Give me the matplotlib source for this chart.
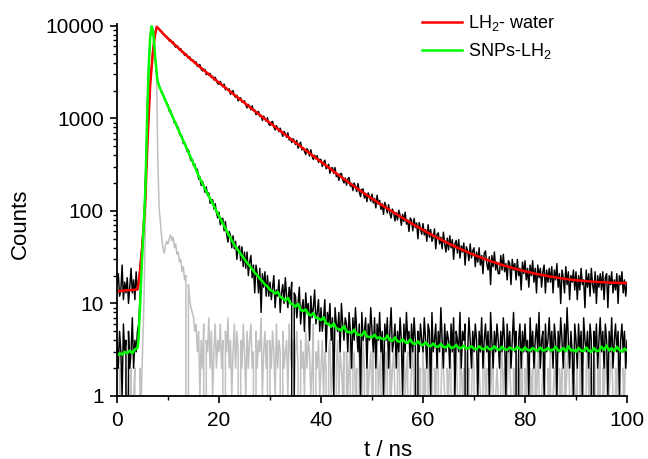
import numpy as np
import matplotlib
matplotlib.use("Agg")
import matplotlib.pyplot as plt
from matplotlib.ticker import LogLocator, FixedLocator, NullFormatter

plt.rcParams['font.family'] = ['Liberation Sans', 'DejaVu Sans']
plt.rcParams['mathtext.fontset'] = 'custom'
plt.rcParams['mathtext.rm'] = 'Liberation Sans'
plt.rcParams['mathtext.it'] = 'Liberation Sans:italic'

# measured decays, one block per 5 ns, channel width 0.25 ns
water_counts = [
    [16, 21, 12, 14, 26, 11, 17, 13, 19, 10, 15, 24, 13, 18, 11, 22, 14, 17, 25, 34],
    [48, 70, 121, 290, 640, 1250, 2380, 3520, 5100, 6700, 8400, 9800, 9500, 9300, 8800, 8700, 8200, 8100, 7700, 7600],
    [7450, 6890, 7110, 6630, 6760, 6190, 5890, 6150, 5860, 5470, 5700, 5200, 5250, 4810, 5020, 4780, 4460, 4650, 4250, 4300],
    [4240, 3930, 4100, 3650, 3740, 3830, 3410, 3260, 3410, 3380, 2980, 3120, 2940, 3070, 2760, 2860, 2600, 2800, 2540, 2380],
    [2340, 2520, 2340, 2200, 2360, 2040, 2140, 2020, 2090, 1820, 1950, 2000, 1770, 1690, 1780, 1550, 1660, 1670, 1500, 1530],
    [1550, 1400, 1300, 1420, 1360, 1240, 1370, 1210, 1240, 1100, 1160, 1190, 1050, 1080, 950, 1060, 995, 930, 1020, 870],
    [840, 910, 930, 810, 750, 835, 790, 720, 785, 705, 640, 725, 690, 625, 700, 585, 610, 550, 605, 580],
    [522, 580, 477, 526, 553, 457, 483, 444, 407, 472, 448, 392, 460, 389, 360, 401, 366, 397, 335, 362],
    [360, 302, 334, 354, 286, 295, 320, 255, 291, 293, 254, 295, 235, 254, 214, 251, 255, 217, 201, 227],
    [190, 222, 230, 185, 199, 166, 201, 184, 162, 198, 161, 143, 171, 173, 138, 155, 126, 157, 143, 127],
    [152, 122, 137, 108, 148, 118, 130, 104, 120, 92, 124, 112, 95, 117, 94, 84, 105, 96, 78, 96],
    [80, 102, 90, 70, 92, 77, 97, 72, 80, 60, 84, 79, 61, 83, 66, 74, 50, 75, 65, 56],
    [73, 55, 63, 47, 71, 52, 63, 47, 52, 64, 39, 56, 58, 44, 52, 39, 59, 44, 36, 51],
    [38, 54, 40, 49, 30, 44, 48, 35, 49, 31, 42, 36, 45, 26, 41, 37, 29, 44, 31, 37],
    [40, 25, 36, 28, 40, 26, 33, 21, 35, 37, 27, 23, 32, 16, 33, 25, 36, 23, 28, 21],
    [21, 33, 23, 34, 22, 27, 18, 29, 27, 16, 30, 23, 27, 18, 30, 20, 24, 14, 28, 21],
    [29, 18, 24, 15, 26, 20, 29, 17, 24, 13, 26, 19, 24, 15, 22, 26, 13, 23, 17, 24],
    [17, 25, 13, 23, 18, 27, 15, 21, 10, 23, 19, 13, 25, 16, 22, 11, 20, 17, 23, 14],
    [22, 11, 20, 14, 24, 16, 18, 9, 23, 15, 21, 12, 24, 16, 13, 22, 10, 20, 15, 21],
    [14, 22, 11, 19, 21, 9, 20, 16, 22, 13, 18, 14, 21, 10, 20, 16, 22, 13, 18, 12, 17],
]

snp_counts = [
    [4, 2, 5, 3, 1, 6, 3, 4, 0, 5, 2, 3, 7, 2, 4, 3, 5, 6, 11, 22],
    [52, 66, 170, 480, 1550, 4150, 7600, 9800, 9250, 7050, 4450, 3150, 2480, 2270, 2080, 1970, 1780, 1700, 1540, 1460],
    [1390, 1200, 1220, 1060, 1030, 890, 910, 790, 805, 680, 650, 640, 535, 550, 505, 437, 460, 388, 350, 364],
    [309, 321, 272, 283, 221, 234, 189, 209, 189, 159, 182, 146, 157, 121, 132, 132, 105, 120, 96, 84],
    [97, 71, 83, 83, 61, 77, 56, 46, 60, 54, 40, 54, 39, 47, 30, 40, 42, 29, 41, 25],
    [36, 24, 36, 20, 28, 33, 19, 26, 13, 26, 21, 13, 24, 8, 21, 15, 22, 12, 20, 12],
    [17, 11, 15, 20, 9, 14, 12, 18, 8, 13, 16, 10, 19, 12, 9, 15, 11, 17, 0, 13],
    [12, 7, 10, 15, 6, 9, 11, 5, 13, 8, 10, 4, 12, 7, 9, 14, 6, 8, 11, 5],
    [9, 5, 7, 11, 3, 8, 6, 10, 4, 7, 1, 9, 6, 5, 8, 3, 10, 6, 4, 7],
    [6, 3, 8, 5, 2, 7, 4, 9, 5, 3, 6, 1, 8, 4, 5, 7, 2, 6, 4, 9],
    [5, 3, 7, 2, 6, 4, 8, 3, 5, 1, 6, 4, 7, 2, 5, 9, 3, 4, 6, 2],
    [5, 3, 7, 4, 1, 6, 3, 8, 4, 5, 2, 6, 3, 7, 4, 0, 5, 3, 6, 4],
    [3, 7, 4, 2, 6, 5, 1, 8, 3, 4, 6, 2, 5, 3, 9, 4, 2, 6, 3, 5],
    [4, 2, 6, 3, 7, 1, 5, 4, 3, 8, 2, 5, 4, 6, 0, 3, 7, 4, 2, 5],
    [3, 6, 4, 1, 5, 3, 7, 2, 4, 6, 3, 5, 1, 8, 4, 2, 5, 3, 6, 4],
    [2, 5, 3, 7, 4, 1, 6, 3, 5, 2, 4, 8, 3, 5, 0, 4, 6, 2, 5, 3],
    [6, 3, 4, 1, 7, 3, 5, 2, 4, 6, 3, 8, 2, 4, 5, 1, 6, 3, 4, 7],
    [3, 5, 2, 6, 4, 1, 5, 3, 7, 4, 2, 6, 3, 9, 4, 2, 5, 3, 1, 6],
    [4, 2, 6, 3, 5, 1, 7, 4, 3, 5, 2, 6, 4, 0, 5, 3, 6, 2, 4, 7],
    [3, 5, 2, 6, 4, 1, 5, 3, 7, 2, 4, 6, 3, 5, 1, 4, 6, 3, 5, 2, 4],
]

irf_counts = [
    [1, 0, 2, 1, 0, 1, 0, 2, 1, 1, 0, 2, 0, 1, 2, 0, 1, 0, 2, 1],
    [3, 9, 45, 320, 1600, 4600, 8200, 9600, 9000, 6800, 4400, 3000, 350, 110, 75, 52, 40, 35, 42, 47],
    [44, 50, 55, 48, 52, 40, 44, 34, 36, 28, 30, 22, 25, 18, 20, 0, 16, 11, 9, 8],
    [7, 5, 6, 3, 5, 1, 4, 2, 6, 0, 4, 3, 7, 2, 5, 1, 3, 6, 2, 4],
    [3, 6, 2, 4, 0, 5, 3, 7, 2, 4, 1, 3, 6, 2, 5, 3, 0, 4, 2, 6],
    [3, 1, 5, 2, 4, 6, 2, 3, 0, 5, 2, 4, 3, 7, 1, 3, 5, 2, 4, 0],
    [4, 2, 5, 3, 1, 6, 2, 4, 3, 0, 5, 2, 3, 4, 1, 6, 3, 2, 4, 1],
    [3, 5, 2, 0, 4, 2, 3, 1, 5, 2, 4, 3, 1, 2, 6, 0, 3, 2, 4, 1],
    [2, 4, 1, 3, 2, 0, 3, 4, 1, 2, 3, 0, 2, 4, 1, 3, 2, 1, 3, 0],
    [3, 1, 2, 4, 0, 2, 3, 1, 2, 0, 3, 2, 1, 4, 2, 0, 3, 1, 2, 3],
    [1, 3, 0, 2, 4, 1, 2, 3, 0, 2, 1, 3, 2, 0, 4, 1, 2, 3, 1, 0],
    [2, 3, 1, 0, 2, 4, 1, 2, 3, 0, 1, 2, 3, 1, 0, 2, 4, 1, 2, 0],
    [3, 1, 2, 0, 2, 3, 1, 4, 0, 2, 1, 3, 2, 0, 1, 3, 2, 1, 0, 2],
    [1, 3, 2, 0, 1, 2, 4, 1, 0, 3, 2, 1, 2, 0, 3, 1, 2, 0, 1, 3],
    [2, 0, 1, 3, 2, 1, 0, 2, 3, 1, 2, 0, 4, 1, 2, 3, 0, 1, 2, 1],
    [0, 2, 3, 1, 2, 0, 1, 3, 2, 1, 0, 2, 1, 3, 2, 0, 2, 1, 4, 0],
    [2, 1, 3, 0, 2, 1, 2, 0, 3, 1, 2, 4, 0, 1, 2, 3, 1, 0, 2, 1],
    [3, 0, 1, 2, 1, 3, 0, 2, 1, 2, 0, 3, 1, 2, 4, 1, 0, 2, 3, 1],
    [1, 2, 0, 3, 1, 2, 1, 0, 2, 3, 1, 2, 0, 1, 3, 2, 0, 2, 1, 3],
    [0, 2, 1, 3, 2, 0, 1, 2, 3, 1, 0, 2, 1, 3, 2, 1, 0, 2, 1, 3, 2],
]

# fitted curves
red_t = [0, 1, 2, 3, 4.0, 4.2, 4.5, 5.0, 5.5, 6.0, 6.5, 7.0, 7.4, 7.8, 8.2, 9, 10, 11, 12, 13, 14,
         16, 18, 20, 22, 24, 26, 28, 30, 32, 34, 36, 38, 40, 43, 46, 49, 52, 55, 58, 61, 64, 67,
         70, 73, 76, 79, 82, 85, 88, 91, 94, 97, 100]
red_v = [13.5, 13.7, 13.9, 14.0, 14.2, 16, 22, 45, 115, 600, 2300, 5000, 7800, 9800, 9300, 8300,
         7300, 6500, 5800, 5150, 4600, 3700, 3000, 2440, 1990, 1630, 1330, 1090, 895, 735, 605,
         498, 411, 340, 255, 193, 148, 115, 91, 72, 58, 47.5, 39.5, 33.5, 29, 25.6, 23, 21, 19.5,
         18.4, 17.6, 17.1, 16.8, 16.6]

green_head_t = [0, 0.5, 1, 1.5, 2, 2.5, 3, 3.5, 4.0, 4.2, 4.5, 4.9, 5.3, 5.6, 5.9, 6.2, 6.5, 6.8,
                7.1, 7.5, 7.9, 8.3, 9, 10, 11, 12, 13, 14, 15, 16, 17, 18, 19, 20, 21, 22, 23, 24,
                25, 25.5]
green_head_v = [2.7, 2.9, 2.8, 3.0, 2.9, 3.1, 2.9, 3.2, 3.3, 4, 9, 30, 80, 200, 1000, 3500, 7500,
                9900, 8500, 4500, 2600, 2200, 1800, 1350, 1010, 760, 570, 430, 325, 240, 185, 145,
                113, 88, 69, 54, 43, 36, 30, 27.5]
# 26 ns onwards, every 0.5 ns
green_tail = [25.5, 23.6, 21.5, 20.3, 18.5, 17.4, 16, 15.3, 14, 13.6, 12.8, 13.4, 11.8, 11.4, 10.8,
              11.5, 10, 9.8, 9.2, 9.9, 8.5, 8.3, 8.6, 7.7, 7.4, 7.9, 7.0, 6.9, 6.6, 7.1, 6.1, 6.0,
              5.6, 6.1, 5.35, 5.3, 5.1, 5.7, 4.95, 4.9, 4.8, 5.2, 4.65, 4.6, 4.5, 5.0, 4.4, 4.35,
              4.3, 4.6, 4.2, 4.3, 4.15, 4.1, 4.5, 4.0, 3.95, 4.3, 3.9, 3.85, 4.1, 3.8, 3.75, 4.1,
              3.7, 3.65, 3.9, 3.6, 3.55, 3.8, 3.5, 3.45, 3.7, 3.45, 3.4, 3.65, 3.4, 3.35, 3.6, 3.3,
              3.35, 3.55, 3.3, 3.3, 3.5, 3.25, 3.3, 3.45, 3.25, 3.2, 3.45, 3.25, 3.2, 3.4, 3.2, 3.2,
              3.45, 3.2, 3.15, 3.4, 3.2, 3.15, 3.35, 3.2, 3.15, 3.4, 3.2, 3.1, 3.35, 3.15, 3.1, 3.3,
              3.15, 3.1, 3.35, 3.1, 3.15, 3.3, 3.1, 3.15, 3.4, 3.1, 3.1, 3.3, 3.05, 3.45, 3.1, 3.15,
              3.0, 3.3, 3.1, 3.05, 3.35, 3.1, 3.0, 3.3, 3.05, 3.1, 3.4, 3.15, 3.5, 3.1, 3.3, 3.05,
              3.4, 3.15, 3.0, 3.25, 3.1]

legend_labels = ['LH$_2$- water', 'SNPs-LH$_2$']


def block_times(blocks):
    return np.concatenate([5 * k + 0.25 * np.arange(len(b)) for k, b in enumerate(blocks)])


fig = plt.figure(figsize=(6.48, 4.59), dpi=100)
ax = fig.add_axes([0.1806, 0.1373, 0.787, 0.8104])

ax.plot(block_times(irf_counts), np.concatenate(irf_counts), color='#c0c0c0', lw=1.1)
ax.plot(block_times(snp_counts), np.concatenate(snp_counts), color='black', lw=1.05)
ax.plot(block_times(water_counts), np.concatenate(water_counts), color='black', lw=1.05)

green_t = np.concatenate([green_head_t, 26 + 0.5 * np.arange(len(green_tail))])
green_v = np.concatenate([green_head_v, green_tail])
l1, = ax.plot(red_t, red_v, color='#ff0000', lw=1.8)
l2, = ax.plot(green_t, green_v, color='#00ff00', lw=1.8)

ax.set_yscale('log')
ax.set_xlim(0, 100)
ax.set_ylim(1, 10500)

ax.yaxis.set_major_locator(FixedLocator([1, 10, 100, 1000, 10000]))
ax.set_yticklabels(['1', '10', '100', '1000', '10000'])
ax.yaxis.set_minor_locator(LogLocator(base=10, subs=np.arange(2, 10), numticks=20))
ax.yaxis.set_minor_formatter(NullFormatter())
ax.set_xticks([0, 20, 40, 60, 80, 100])
ax.set_xticks([10, 30, 50, 70, 90], minor=True)

for s in ['top', 'right']:
    ax.spines[s].set_visible(False)
for s in ['left', 'bottom']:
    ax.spines[s].set_linewidth(1.3)
ax.tick_params(which='major', direction='out', length=5, width=1.2, labelsize=15)
ax.tick_params(which='minor', direction='out', length=3, width=1.0)
ax.tick_params(axis='x', which='major', pad=6)
ax.tick_params(axis='y', which='major', pad=4.5)

ax.set_xlabel('t / ns', fontsize=16)
ax.set_ylabel('Counts', fontsize=16)
ax.xaxis.set_label_coords(0.531, -0.117)
ax.yaxis.set_label_coords(-0.169, 0.462)

fig.legend([l1, l2], legend_labels, loc='upper left', bbox_to_anchor=(0.651, 0.972),
           frameon=False, fontsize=13, handlelength=2.2, handletextpad=0.35,
           borderpad=0, borderaxespad=0, labelspacing=0.45)

fig.savefig('out.png', dpi=100)
